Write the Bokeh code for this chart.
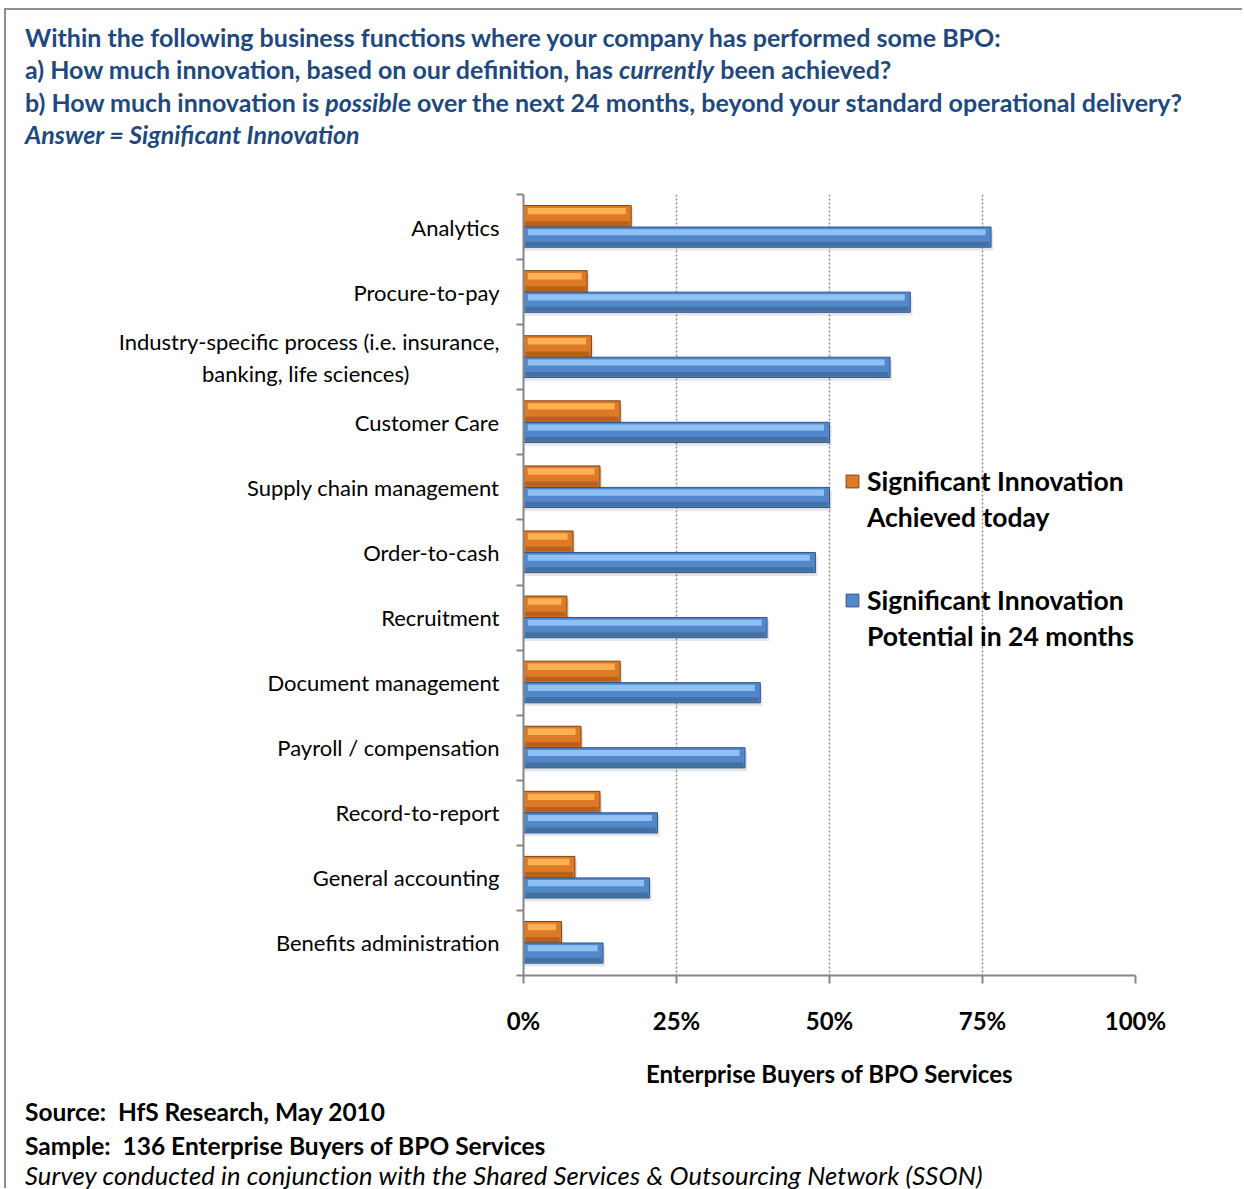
from bokeh.plotting import figure
from bokeh.layouts import column
from bokeh.models import Range1d, FixedTicker, Legend, LegendItem, Div
from bokeh.embed import file_html
from bokeh.resources import INLINE

# ---------------- data ----------------
NB = "\u00a0"
categories = [
    "Analytics",
    "Procure-to-pay",
    "Industry-specific process (i.e. insurance,\nbanking, life sciences)" + NB * 16,
    "Customer Care",
    "Supply chain management",
    "Order-to-cash",
    "Recruitment",
    "Document management",
    "Payroll / compensation",
    "Record-to-report",
    "General accounting",
    "Benefits administration",
]
achieved_today = [17.6, 10.4, 11.1, 15.8, 12.5, 8.1, 7.1, 15.8, 9.4, 12.5, 8.4, 6.2]
potential_24_months = [76.4, 63.2, 59.9, 50.0, 50.0, 47.7, 39.8, 38.7, 36.2, 21.9, 20.6, 13.0]
x_tick_values = [0, 25, 50, 75, 100]
x_tick_labels = ["0%", "25%", "50%", "75%", "100%"]
series_names = [["Significant Innovation", "Achieved today"],
                ["Significant Innovation", "Potential in 24 months"]]
x_axis_title = "Enterprise Buyers of BPO Services"
title_lines = [
    "Within the following business functions where your company has performed some BPO:",
    "a) How much innovation, based on our definition, has <i>currently</i> been achieved?",
    "b) How much innovation is <i>possibl</i>e over the next 24 months, beyond your standard operational delivery?",
    "<i>Answer = Significant Innovation</i>",
]
footer_lines = [
    "Source:&nbsp; HfS Research, May 2010",
    "Sample:&nbsp; 136 Enterprise Buyers of BPO Services",
    "<i>Survey conducted in conjunction with the Shared Services &amp; Outsourcing Network (SSON)</i>",
]

FONT = "Lato"
TITLE_BLUE = "#1F497D"
AXIS_GRAY = "#868686"
W = 1236


def text_block(lines, tops, height, size, weights, color, extra=None):
    extra = extra or [""] * len(lines)
    parts = []
    for ln, tp, wt, ex in zip(lines, tops, weights, extra):
        parts.append(
            f'<div style="position:absolute; left:19px; top:{tp}px; line-height:32px; '
            f'white-space:nowrap; font-weight:{wt}; {ex}">{ln}</div>')
    html = (f'<div style="position:relative; width:{W}px; height:{height}px; '
            f'font-family:{FONT}; font-size:{size}; color:{color};">' + "".join(parts) + "</div>")
    return Div(text=html, width=W, height=height, margin=0)


# ---------------- title block ----------------
TH = 150
title_div = text_block(title_lines, [11, 43, 76, 108], TH, "25px", ["bold"] * 4, TITLE_BLUE)

# ---------------- main chart ----------------
p = figure(
    frame_width=612, frame_height=781,
    x_range=Range1d(0, 100), y_range=Range1d(len(categories), 0),
    min_border_left=517, min_border_right=107, min_border_top=34, min_border_bottom=120,
    output_backend="svg", toolbar_location=None,
)
p.outline_line_color = None

idx = list(range(len(categories)))
o_y = [i + 0.335 for i in idx]
b_y = [i + 0.655 for i in idx]
oh, bh = 0.33, 0.31

# shadows
p.hbar(y=[v + 0.05 for v in o_y], left=0, right=[v + 0.35 for v in achieved_today], height=oh,
       fill_color="#000000", fill_alpha=0.10, line_color=None)
p.hbar(y=[v + 0.05 for v in b_y], left=0, right=[v + 0.35 for v in potential_24_months], height=bh,
       fill_color="#000000", fill_alpha=0.10, line_color=None)

# base bars
r_o = p.hbar(y=o_y, left=0, right=achieved_today, height=oh,
             fill_color="#DE7A25", line_color="#7F4310", line_width=1)
r_b = p.hbar(y=b_y, left=0, right=potential_24_months, height=bh,
             fill_color="#5288CB", line_color="#30568A", line_width=1)

# bevel highlights / shading
p.hbar(y=[v - oh * 0.24 for v in o_y], left=0.7, right=[v - 0.9 for v in achieved_today],
       height=oh * 0.30, fill_color="#FDB055", line_color=None)
p.hbar(y=[v + oh * 0.34 for v in o_y], left=0.3, right=[v - 0.3 for v in achieved_today],
       height=oh * 0.22, fill_color="#B9601B", line_color=None)
p.hbar(y=[v - bh * 0.24 for v in b_y], left=0.7, right=[v - 0.9 for v in potential_24_months],
       height=bh * 0.30, fill_color="#8FC1F4", line_color=None)
p.hbar(y=[v + bh * 0.34 for v in b_y], left=0.3, right=[v - 0.3 for v in potential_24_months],
       height=bh * 0.22, fill_color="#44709F", line_color=None)

# invisible renderer for second legend lines
r_none = p.hbar(y=[], right=[], height=0.3, fill_alpha=0, line_alpha=0)

# ---------------- axes ----------------
p.xaxis.ticker = FixedTicker(ticks=x_tick_values)
p.xaxis.major_label_overrides = {v: l for v, l in zip(x_tick_values, x_tick_labels)}
p.xaxis.major_label_text_font = FONT
p.xaxis.major_label_text_font_style = "bold"
p.xaxis.major_label_text_font_size = "24px"
p.xaxis.major_label_text_color = "#000000"
p.xaxis.major_label_standoff = 22
p.xaxis.axis_label = x_axis_title
p.xaxis.axis_label_text_font = FONT
p.xaxis.axis_label_text_font_style = "bold"
p.xaxis.axis_label_text_font_size = "24px"
p.xaxis.axis_label_text_color = "#000000"
p.xaxis.axis_label_standoff = 21
p.xaxis.axis_line_color = AXIS_GRAY
p.xaxis.axis_line_width = 2
p.xaxis.major_tick_line_color = AXIS_GRAY
p.xaxis.major_tick_line_width = 2
p.xaxis.major_tick_out = 8
p.xaxis.major_tick_in = 0
p.xaxis.minor_tick_line_color = None

p.yaxis.ticker = FixedTicker(ticks=[i + 0.5 for i in idx], minor_ticks=list(range(len(categories) + 1)))
p.yaxis.major_label_overrides = {i + 0.5: c for i, c in zip(idx, categories)}
p.yaxis.major_label_text_font = FONT
p.yaxis.major_label_text_font_size = "22px"
p.yaxis.major_label_text_color = "#000000"
p.yaxis.major_label_standoff = 17
p.yaxis.major_tick_line_color = None
p.yaxis.major_tick_out = 0
p.yaxis.major_tick_in = 0
p.yaxis.minor_tick_line_color = AXIS_GRAY
p.yaxis.minor_tick_line_width = 2
p.yaxis.minor_tick_out = 7
p.yaxis.minor_tick_in = 0
p.yaxis.axis_line_color = AXIS_GRAY
p.yaxis.axis_line_width = 2

p.xgrid.ticker = FixedTicker(ticks=x_tick_values[1:])
p.xgrid.grid_line_color = "#8c8c8c"
p.xgrid.grid_line_dash = "2 2"
p.xgrid.grid_line_width = 1.5
p.ygrid.grid_line_color = None

# ---------------- legend ----------------
def make_legend(lines, rend, loc):
    lg = Legend(
        items=[LegendItem(label=lines[0], renderers=[rend]),
               LegendItem(label=lines[1], renderers=[r_none])],
        location=loc,
        glyph_width=16, glyph_height=16, label_standoff=7, spacing=4, padding=0, margin=0,
        label_text_font=FONT, label_text_font_style="bold", label_text_font_size="26.5px",
        label_text_color="#000000",
        border_line_color=None, background_fill_alpha=0,
    )
    p.add_layout(lg)

make_legend(series_names[0], r_o, (321, 442))
make_legend(series_names[1], r_b, (321, 323))

# ---------------- footer block ----------------
FH = 93
footer_div = text_block(footer_lines, [1, 35, 64], FH, "24.5px", ["bold", "bold", "normal"], "#000000",
                        extra=["", "", "font-size:25.5px; letter-spacing:0.15px;"])

layout = column(title_div, p, footer_div, spacing=0,
                styles={"margin-top": "8px", "margin-left": "4px",
                        "border-top": "2px solid #8f8f8f", "border-left": "2px solid #8f8f8f"})

open("out.html", "w").write(file_html(layout, INLINE))
